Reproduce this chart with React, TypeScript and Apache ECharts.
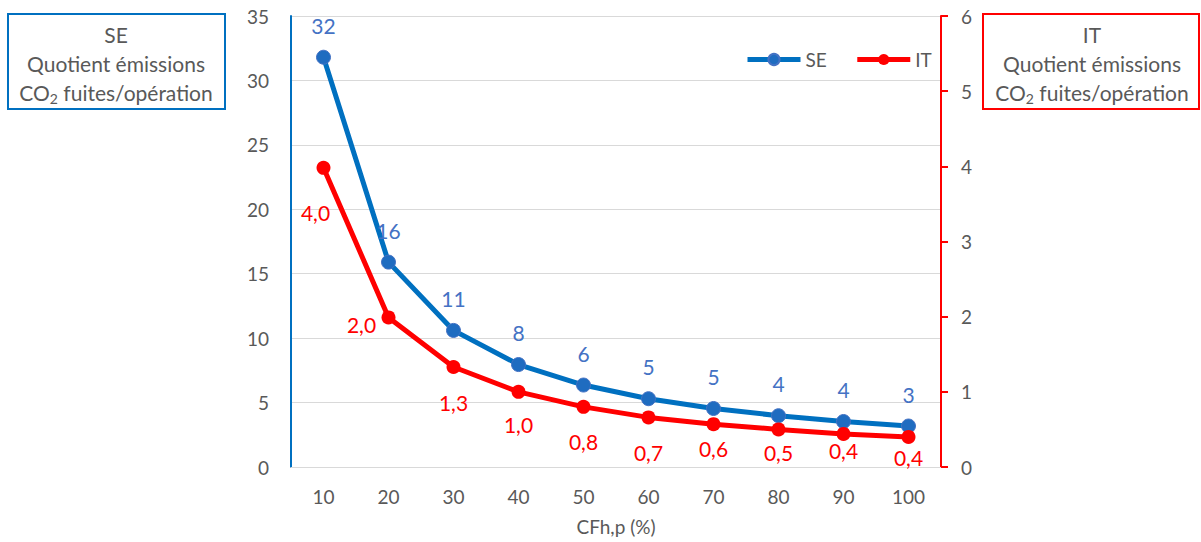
import React, { useEffect, useRef } from "react";
import * as echarts from "echarts";

const categories = ["10", "20", "30", "40", "50", "60", "70", "80", "90", "100"];
const seValues = [31.8, 15.9, 10.6, 7.95, 6.36, 5.3, 4.54, 3.98, 3.53, 3.18];
const itValues = [3.98, 1.99, 1.33, 1.0, 0.8, 0.66, 0.57, 0.5, 0.44, 0.4];
const seTitleLines = ["SE", "Quotient émissions"];
const itTitleLines = ["IT", "Quotient émissions"];
const xAxisName = "CFh,p (%)";

const FONT = "Lato";
const GRAY = "#595959";
const BLUE = "#0070C0";
const RED = "#FF0000";

// label placement offsets (styling, not data)
const itLabelOffsets: [number, number][] = [
  [-8, 45], [-27, 7], [0, 35], [0, 33], [0, 35], [0, 35], [0, 24], [0, 23], [0, 17], [0, 21],
];

function titleBox(x: number, w: number, color: string, lines: string[], cx: number) {
  return [
    {
      type: "rect",
      shape: { x, y: 14, width: w, height: 95 },
      style: { fill: "#fff", stroke: color, lineWidth: 2 },
      z: 10,
    },
    {
      type: "text",
      x: cx,
      y: 34,
      style: { text: lines[0], fill: GRAY, font: `21px ${FONT}`, align: "center", verticalAlign: "middle" },
      z: 11,
    },
    {
      type: "text",
      x: cx,
      y: 63,
      style: { text: lines[1], fill: GRAY, font: `21px ${FONT}`, align: "center", verticalAlign: "middle" },
      z: 11,
    },
    {
      type: "text",
      x: cx,
      y: 92,
      style: {
        text: "{a|CO}{s|2}{a| fuites/opération}",
        align: "center",
        verticalAlign: "middle",
        rich: {
          a: { fill: GRAY, fontSize: 21, fontFamily: FONT, lineHeight: 26, verticalAlign: "middle" },
          s: { fill: GRAY, fontSize: 14, fontFamily: FONT, lineHeight: 14, verticalAlign: "bottom" },
        },
      },
      z: 11,
    },
  ];
}

export default function App() {
  const ref = useRef<HTMLDivElement>(null);
  useEffect(() => {
    document.body.style.margin = "0";
    const chart = echarts.init(ref.current!, undefined, { renderer: "svg" });
    chart.setOption({
      animation: false,
      textStyle: { fontFamily: FONT },
      grid: { left: 291, right: 260, top: 16, bottom: 75, outerBoundsMode: "none", containLabel: false },
      legend: {
        data: ["SE", "IT"],
        left: 745,
        top: 50,
        padding: 0,
        itemWidth: 53,
        itemHeight: 14,
        itemGap: 28,
        lineStyle: { width: 5 },
        textStyle: { fontSize: 19, color: GRAY, fontFamily: FONT },
      },
      xAxis: {
        type: "category",
        data: categories,
        boundaryGap: true,
        axisLine: { lineStyle: { color: "#D9D9D9", width: 1 } },
        axisTick: { show: false },
        axisLabel: { color: GRAY, fontSize: 19, margin: 20, fontFamily: FONT },
        name: xAxisName,
        nameLocation: "middle",
        nameGap: 50,
        nameTextStyle: { color: GRAY, fontSize: 19, fontFamily: FONT },
      },
      yAxis: [
        {
          type: "value",
          min: 0,
          max: 35,
          interval: 5,
          axisLine: { show: true, lineStyle: { color: BLUE, width: 2 } },
          axisTick: { show: false },
          splitLine: { lineStyle: { color: "#D9D9D9", width: 1 } },
          axisLabel: { color: GRAY, fontSize: 19, margin: 22, fontFamily: FONT },
        },
        {
          type: "value",
          position: "right",
          min: 0,
          max: 6,
          interval: 1,
          axisLine: { show: true, lineStyle: { color: RED, width: 2 } },
          axisTick: { show: true, inside: false, length: 7, lineStyle: { color: RED, width: 2 } },
          splitLine: { show: false },
          axisLabel: { color: GRAY, fontSize: 19, margin: 20, fontFamily: FONT },
        },
      ],
      series: [
        {
          name: "SE",
          type: "line",
          yAxisIndex: 0,
          data: seValues,
          symbol: "circle",
          symbolSize: 14,
          lineStyle: { color: BLUE, width: 5 },
          itemStyle: { color: "#1F6CC0", borderColor: "#4472C4", borderWidth: 1 },
          label: {
            show: true,
            position: "inside",
            offset: [0, -32],
            color: "#4472C4",
            fontSize: 21,
            fontFamily: FONT,
            formatter: (p: any) => String(Math.round(p.value)),
          },
          emphasis: { disabled: true },
        },
        {
          name: "IT",
          type: "line",
          yAxisIndex: 1,
          data: itValues.map((v, i) => ({ value: v, label: { offset: itLabelOffsets[i] } })),
          symbol: "circle",
          symbolSize: 14,
          lineStyle: { color: RED, width: 5 },
          itemStyle: { color: RED },
          label: {
            show: true,
            position: "inside",
            color: RED,
            fontSize: 21,
            fontFamily: FONT,
            formatter: (p: any) => Number(p.value).toFixed(1).replace(".", ","),
          },
          emphasis: { disabled: true },
        },
      ],
      graphic: [
        ...titleBox(8, 217, BLUE, seTitleLines, 116),
        ...titleBox(983, 216, RED, itTitleLines, 1092),
      ],
    });
    return () => chart.dispose();
  }, []);
  return (
    <div
      ref={ref}
      style={{ position: "absolute", left: 0, top: 0, width: 1201, height: 542 }}
    />
  );
}
